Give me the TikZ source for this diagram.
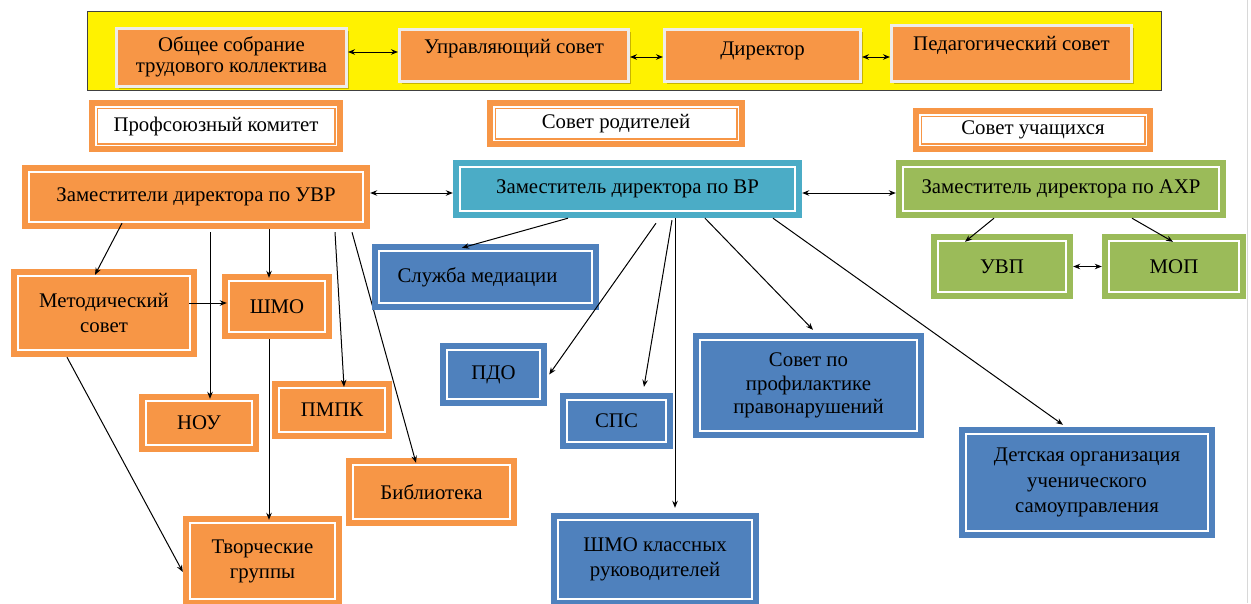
\documentclass[tikz,border=0pt]{standalone}
\usepackage{fontspec}
\newfontfamily\fa{Liberation Serif}
\usetikzlibrary{arrows.meta,shadows}
\definecolor{org}{HTML}{F79646}
\definecolor{blu}{HTML}{4F81BD}
\definecolor{teal2}{HTML}{4BACC6}
\definecolor{grn}{HTML}{9BBB59}
\definecolor{topedge}{HTML}{EEECEA}
\definecolor{shad}{HTML}{C8B400}
\definecolor{bandedge}{HTML}{404040}
\definecolor{sidebar}{HTML}{D8D8D8}
\newcommand{\F}{\fontsize{20.8}{25}\selectfont}
\begin{document}
\begin{tikzpicture}[x=1pt,y=-1pt,
  every node/.style={inner sep=0pt, align=center},
  topbox/.style={fill=org, draw=topedge, line width=3pt,
    drop shadow={shadow xshift=2.5pt, shadow yshift=-2.5pt, fill=shad, opacity=1}},
  raisetext/.style={text height=14pt, text depth=#1},
  whitebox/.style={fill=white, draw=org, line width=6pt,
    path picture={\draw[org, line width=1.5pt]
      ([shift={(5.25pt,-5.25pt)}]path picture bounding box.north west) rectangle
      ([shift={(-5.25pt,5.25pt)}]path picture bounding box.south east);}},
  fillbox/.style={fill=#1,
    path picture={\draw[white, line width=2pt]
      ([shift={(7pt,-7pt)}]path picture bounding box.north west) rectangle
      ([shift={(-7pt,7pt)}]path picture bounding box.south east);}},
  arr/.style={-{Stealth[length=7pt,width=5.5pt]}, line width=1pt},
  dbl/.style={{Stealth[length=7pt,width=5.5pt]}-{Stealth[length=7pt,width=5.5pt]}, line width=1pt}
]
\useasboundingbox (0,0) rectangle (1251,603);
\draw[sidebar, line width=1pt] (1247,0) -- (1247,603);

% top band
\node[draw=bandedge, fill=yellow, line width=1.5pt, minimum width=1074pt, minimum height=79pt] (band) at (624.5,51) {};
\node[topbox, font=\fa\fontsize{20.8}{21.5}\selectfont, minimum width=230pt, minimum height=58pt] (ob) at (231.5,57) {Общее собрание\\трудового коллектива};
\node[topbox, font=\fa\F, minimum width=229pt, minimum height=52pt, raisetext=18pt] (us) at (514,55.5) {Управляющий совет};
\node[topbox, font=\fa\F, minimum width=196pt, minimum height=52pt, raisetext=15pt] (dir) at (762.5,55.5) {Директор};
\node[topbox, font=\fa\F, minimum width=240pt, minimum height=56pt, raisetext=21pt] (ped) at (1011.5,53.5) {Педагогический совет};
\draw[dbl] ([yshift=5pt]ob.east) -- ([yshift=3.5pt]us.west);
\draw[dbl] ([yshift=-1.5pt]us.east) -- ([yshift=-1.5pt]dir.west);
\draw[dbl] ([yshift=-1.5pt]dir.east) -- ([yshift=-3.5pt]ped.west);

% white boxes
\node[whitebox, font=\fa\F, minimum width=248pt, minimum height=46pt] (prof) at (216,126) {Профсоюзный комитет};
\node[whitebox, font=\fa\F, minimum width=252pt, minimum height=41pt] (rod) at (616,123.5) {Совет родителей};
\node[whitebox, font=\fa\F, minimum width=234pt, minimum height=38pt] (uch) at (1033,130) {Совет учащихся};

% deputies
\node[fillbox=org, font=\fa\F, minimum width=348pt, minimum height=64pt] (uvr) at (196,197) {Заместители директора по УВР};
\node[fillbox=teal2, font=\fa\F, minimum width=349pt, minimum height=58pt] (vr) at (627.5,189) {Заместитель директора по ВР};
\node[fillbox=grn, font=\fa\F, minimum width=330pt, minimum height=58pt] (ahr) at (1061,189) {Заместитель директора по АХР};
\draw[dbl] ([yshift=4pt]uvr.east) -- ([yshift=-4pt]vr.west);
\draw[dbl] ([yshift=-4pt]vr.east) -- ([yshift=-4pt]ahr.west);

% UVR branch
\node[fillbox=org, font=\fa\F, minimum width=186pt, minimum height=88pt] (met) at (104,313) {Методический\\совет};
\node[fillbox=org, font=\fa\F, minimum width=110pt, minimum height=65pt] (shmo) at (277,306.5) {ШМО};
\node[fillbox=org, font=\fa\F, minimum width=120pt, minimum height=58pt] (nou) at (199,423) {НОУ};
\node[fillbox=org, font=\fa\F, minimum width=120pt, minimum height=58pt] (pmpk) at (332,410) {ПМПК};
\node[fillbox=org, font=\fa\F, minimum width=171pt, minimum height=68pt] (bib) at (431.5,492) {Библиотека};
\node[fillbox=org, font=\fa\F, minimum width=159pt, minimum height=90pt] (tvor) at (262.5,561) {Творческие\\группы};

\draw[arr] ([xshift=-74pt,yshift=6pt]uvr.south) -- ([xshift=-9pt,yshift=-6pt]met.north);
\draw[arr] ([xshift=-8pt]shmo.north |- uvr.south) -- ([xshift=-8pt,yshift=-4pt]shmo.north);
\draw[arr] ([xshift=11pt,yshift=-3pt]nou.north |- uvr.south) -- ([xshift=11pt,yshift=-5pt]nou.north);
\draw[arr] ([xshift=139pt,yshift=-3pt]uvr.south) -- ([xshift=12pt,yshift=-6pt]pmpk.north);
\draw[arr] ([xshift=156pt,yshift=-3pt]uvr.south) -- ([xshift=-15.5pt,yshift=-5pt]bib.north);
\draw[arr] ([xshift=-8pt,yshift=10pt]met.east) -- ([xshift=5pt,yshift=3.5pt]shmo.west);
\draw[arr] ([xshift=6.5pt]tvor.north |- shmo.south) -- ([xshift=6.5pt,yshift=-4pt]tvor.north);
\draw[arr] ([xshift=-37pt]met.south) -- ([yshift=-11pt]tvor.west);

% VR branch
\node[fillbox=blu, font=\fa\F, minimum width=227pt, minimum height=66pt] (med) at (485.5,277) {\hspace*{-16pt}Служба медиации};
\node[fillbox=blu, font=\fa\F, minimum width=107pt, minimum height=63pt] (pdo) at (493.5,374.5) {ПДО};
\node[fillbox=blu, font=\fa\F, minimum width=113pt, minimum height=56pt] (sps) at (616.5,421) {СПС};
\node[fillbox=blu, font=\fa\F, minimum width=208pt, minimum height=93pt] (shmok) at (655,559.5) {ШМО классных\\руководителей};
\node[fillbox=blu, font=\fa\fontsize{20.8}{23.5}\selectfont, minimum width=231pt, minimum height=105pt] (sov) at (808.5,385.5) {Совет по\\профилактике\\правонарушений};
\node[fillbox=blu, font=\fa\fontsize{20.8}{25.5}\selectfont, minimum width=256pt, minimum height=111pt] (det) at (1087,482.5) {Детская организация\\ученического\\самоуправления};

\draw[arr] ([xshift=-59.5pt]vr.south) -- ([xshift=-23.5pt,yshift=-4pt]med.north);
\draw[arr] ([xshift=28.5pt,yshift=-5pt]vr.south) -- ([xshift=2pt]pdo.east);
\draw[arr] ([xshift=44.5pt,yshift=-2pt]vr.south) -- ([xshift=27.5pt,yshift=6pt]sps.north);
\draw[arr] ([xshift=20pt]shmok.north |- vr.south) -- ([xshift=20pt,yshift=5pt]shmok.north);
\draw[arr] ([xshift=77.5pt]vr.south) -- ([xshift=4.5pt,yshift=3pt]sov.north);
\draw[arr] ([xshift=145.5pt]vr.south) -- ([xshift=-24pt,yshift=2pt]det.north);

% AHR branch
\node[fillbox=grn, font=\fa\F, minimum width=142pt, minimum height=65pt] (uvp) at (1002,266.5) {УВП};
\node[fillbox=grn, font=\fa\F, minimum width=144pt, minimum height=65pt] (mop) at (1174,266.5) {МОП};
\draw[arr] ([xshift=-67pt]ahr.south) -- ([xshift=-37pt,yshift=-8pt]uvp.north);
\draw[arr] ([xshift=71pt]ahr.south) -- ([xshift=-1pt,yshift=-8pt]mop.north);
\draw[dbl] (uvp.east) -- (mop.west);
\end{tikzpicture}
\end{document}
